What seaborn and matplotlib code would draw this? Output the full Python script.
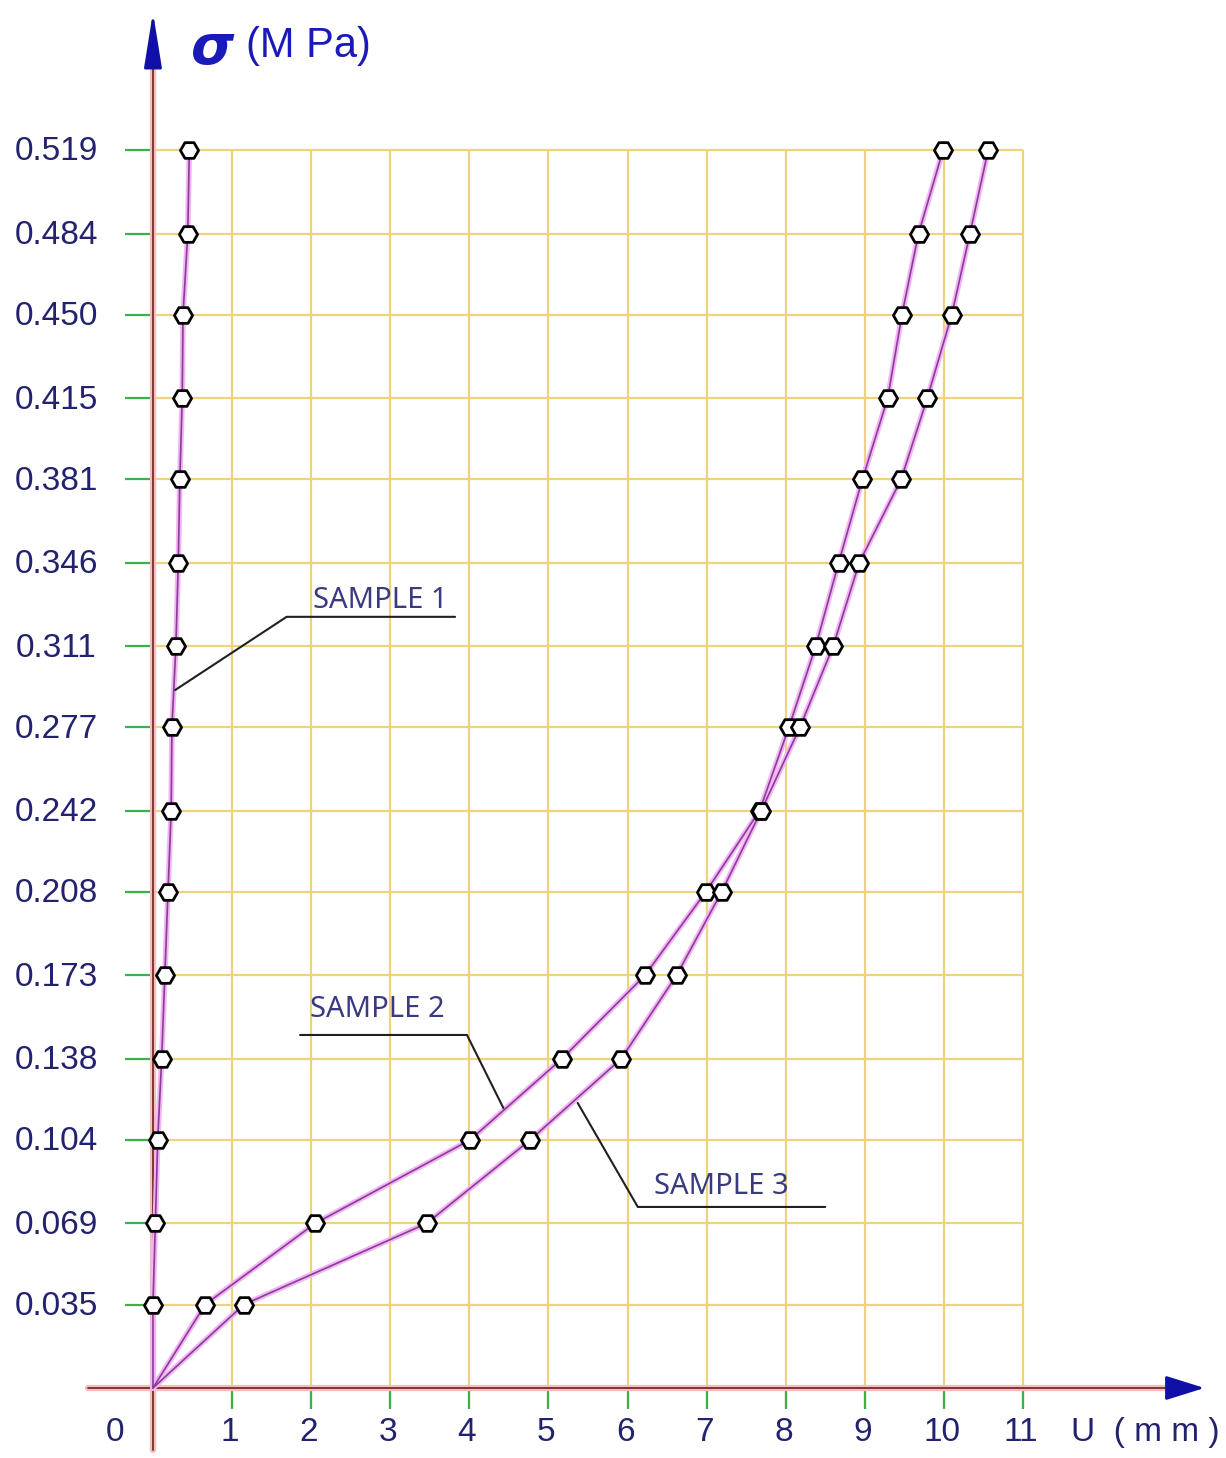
import matplotlib
matplotlib.use('Agg')
import matplotlib.pyplot as plt
import seaborn as sns
import pandas as pd
import numpy as np

# stress levels (MPa) and displacement readings (mm) per sample
sigma = [0, 0.035, 0.069, 0.104, 0.138, 0.173, 0.208, 0.242, 0.277,
         0.311, 0.346, 0.381, 0.415, 0.450, 0.484, 0.519]
sample1 = [0, 0.00, 0.03, 0.06, 0.11, 0.15, 0.19, 0.23, 0.24,
           0.29, 0.32, 0.34, 0.37, 0.38, 0.44, 0.46]
sample2 = [0, 0.66, 2.05, 4.01, 5.17, 6.22, 6.99, 7.67, 8.04,
           8.38, 8.67, 8.97, 9.29, 9.47, 9.68, 9.99]
sample3 = [0, 1.15, 3.46, 4.77, 5.92, 6.62, 7.19, 7.69, 8.18,
           8.60, 8.93, 9.46, 9.79, 10.10, 10.33, 10.56]
x_ticks = list(range(1, 12))
y_ticks = sigma[1:]
y_labels = ['0.035', '0.069', '0.104', '0.138', '0.173', '0.208', '0.242', '0.277',
            '0.311', '0.346', '0.381', '0.415', '0.450', '0.484', '0.519']

df = pd.DataFrame({
    'sigma': sigma * 3,
    'U': sample1 + sample2 + sample3,
    'sample': ['SAMPLE 1'] * 16 + ['SAMPLE 2'] * 16 + ['SAMPLE 3'] * 16,
})

sns.set_theme(style='white')
plt.rcParams['font.family'] = ['DejaVu Sans']

GRID = '#EFD27E'
AXIS = '#7A2A2A'
AXIS_HALO = '#F5BDBD'
LINE = '#8A3C9A'
HALO = '#F2B4F2'
TICK = '#3DB04A'
NAVY = '#22226E'
BLUE = '#1A1AB8'
ARROW = '#1010A8'
lab_font = ['Liberation Sans', 'DejaVu Sans']

fig = plt.figure(figsize=(12.26, 14.58), dpi=100)
ax = fig.add_axes([0, 0, 1, 1])
ax.set_xlim(-1.934, 13.567)
ax.set_ylim(-0.02935, 0.5819)
ax.axis('off')

# grid box
ax.vlines(x_ticks, -0.008, max(y_ticks), color=GRID, lw=1.6, zorder=1)
ax.hlines(y_ticks, 0, max(x_ticks), color=GRID, lw=1.6, zorder=1)
# green ticks
ax.hlines(y_ticks, -0.35, 0, color=TICK, lw=1.6, zorder=2)
ax.vlines(x_ticks, -0.009, 0, color=TICK, lw=1.6, zorder=2)

# axes lines with arrows
ax.plot([0, 0], [-0.026, 0.562], color=AXIS_HALO, lw=4.5, zorder=2)
ax.plot([0, 0], [-0.026, 0.562], color=AXIS, lw=1.3, zorder=3)
ax.plot([-0.82, 12.95], [0, 0], color=AXIS_HALO, lw=4.5, zorder=2)
ax.plot([-0.82, 12.95], [0, 0], color=AXIS, lw=1.3, zorder=3)
ax.annotate('', xy=(0, 0.578), xytext=(0, 0.553),
            arrowprops=dict(arrowstyle='-|>,head_length=1.0,head_width=0.16',
                            color=ARROW, lw=2, mutation_scale=34), zorder=4)
ax.annotate('', xy=(13.33, 0), xytext=(12.85, 0),
            arrowprops=dict(arrowstyle='-|>,head_length=0.8,head_width=0.25',
                            color=ARROW, lw=2, mutation_scale=30), zorder=4)

# curves
for name, grp in df.groupby('sample'):
    sns.lineplot(data=grp, x='U', y='sigma', sort=False, estimator=None,
                 color=HALO, lw=4, ax=ax, zorder=4, legend=False)
    sns.lineplot(data=grp, x='U', y='sigma', sort=False, estimator=None,
                 color=LINE, lw=1.2, ax=ax, zorder=5, legend=False)
pts = df[df['sigma'] > 0]
sns.scatterplot(data=pts, x='U', y='sigma', marker='H', s=170,
                facecolor='white', edgecolor='black', linewidth=2,
                ax=ax, zorder=6, legend=False)

# tick labels
for y, lab in zip(y_ticks, y_labels):
    ax.text(-1.22, y - 0.0008, lab, ha='center', va='center', fontsize=24,
            color=NAVY, family=lab_font, zorder=7)
ax.text(-0.48, -0.0185, '0', ha='center', va='center', fontsize=24,
        color=NAVY, family=lab_font)
for x in x_ticks:
    ax.text(x - 0.03, -0.0185, str(x), ha='center', va='center', fontsize=24,
            color=NAVY, family=lab_font)
ax.text(12.55, -0.0185, 'U  ( m m )', ha='center', va='center', fontsize=24,
        color=NAVY, family=lab_font)

# axis title
ax.text(0.48, 0.5615, '\u03c3', ha='left', va='center', fontsize=40,
        fontweight='bold', fontstyle='italic', color=BLUE)
ax.text(1.17, 0.5625, '(M Pa)', ha='left', va='center', fontsize=30,
        color=BLUE, family=lab_font)

# sample callouts
callouts = [
    ('SAMPLE 1', (2.87, 0.3303), [(0.28, 0.2926), (1.69, 0.3233), (3.82, 0.3233)]),
    ('SAMPLE 2', (2.84, 0.1585), [(4.43, 0.1174), (3.97, 0.148), (1.86, 0.148)]),
    ('SAMPLE 3', (7.19, 0.0843), [(5.37, 0.1195), (6.13, 0.0759), (8.50, 0.0759)]),
]
for label, (tx, ty), path in callouts:
    xs, ys = zip(*path)
    ax.plot(xs, ys, color='#202020', lw=1.5, zorder=7)
    ax.text(tx, ty, label, ha='center', va='center', fontsize=21,
            color='#3A3A80', family=['Noto Sans', 'DejaVu Sans'], zorder=7)

fig.savefig('out.png', dpi=100, facecolor='white')
